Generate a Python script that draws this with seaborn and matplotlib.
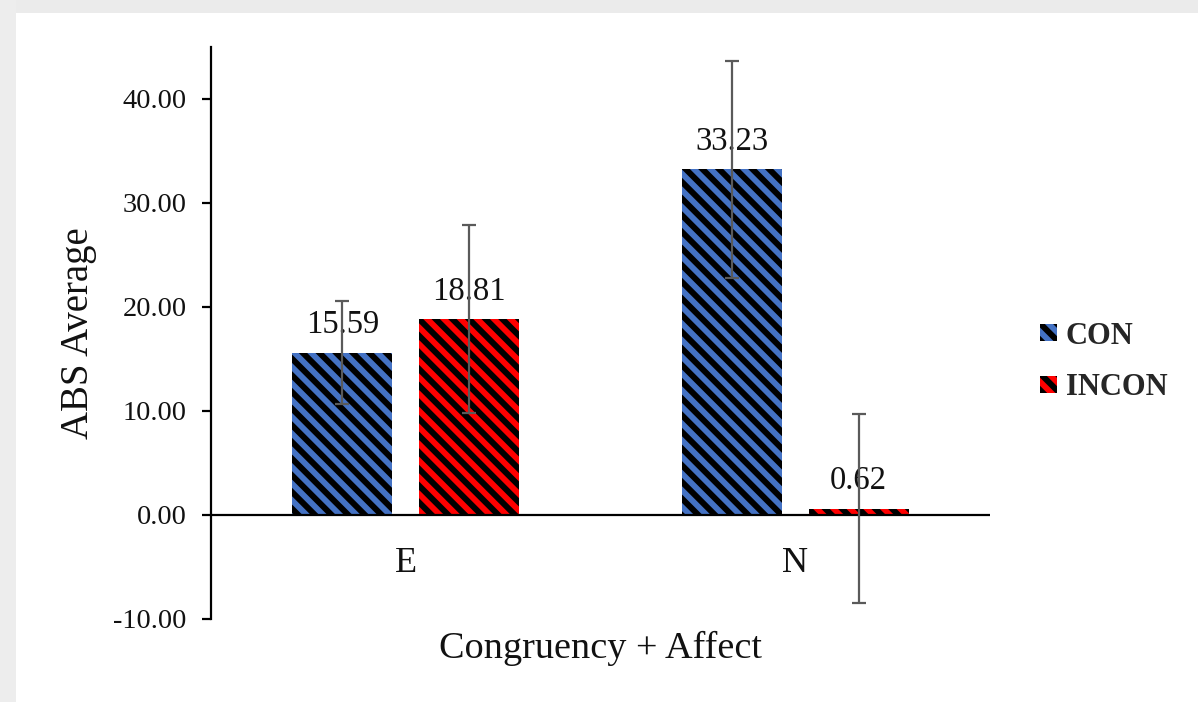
import matplotlib
matplotlib.use("Agg")
import matplotlib.pyplot as plt
from matplotlib.patches import Patch, Rectangle
from matplotlib.ticker import FuncFormatter
import seaborn as sns
import pandas as pd

# ---- data -------------------------------------------------------------
affect = ["E", "N"]
congruency = ["CON", "INCON"]
con_means = [15.59, 33.23]
incon_means = [18.81, 0.62]
con_err = [4.95, 10.45]
incon_err = [9.05, 9.1]
y_ticks = [-10, 0, 10, 20, 30, 40]

colors = {"CON": "#4472C4", "INCON": "#FF0000"}

df = pd.DataFrame({
    "affect": affect * 2,
    "congruency": ["CON"] * 2 + ["INCON"] * 2,
    "value": con_means + incon_means,
})
errors = {"CON": con_err, "INCON": incon_err}

# ---- style ------------------------------------------------------------
sns.set_style("white")
plt.rcParams["font.family"] = ["Liberation Serif", "DejaVu Serif"]
plt.rcParams["hatch.linewidth"] = 4.3
plt.rcParams["hatch.color"] = "black"
plt.rcParams["axes.unicode_minus"] = False
text_color = "#111111"
hatch = "\\\\"

fig = plt.figure(figsize=(11.98, 7.02), dpi=100, facecolor="white")

# light gray frame strip along the top and left edges
fig.add_artist(Rectangle((0, 1 - 13 / 702), 1, 13 / 702, transform=fig.transFigure,
                         facecolor="#ebebeb", edgecolor="none", zorder=0))
fig.add_artist(Rectangle((0, 0), 16 / 1198, 1, transform=fig.transFigure,
                         facecolor="#ededed", edgecolor="none", zorder=0))

ax = fig.add_axes([211 / 1198, 83 / 702, 779 / 1198, 572 / 702])
ax.set_facecolor("none")

sns.barplot(data=df, x="affect", y="value", hue="congruency",
            hue_order=congruency, order=affect,
            palette=[colors[c] for c in congruency], saturation=1,
            width=0.652, gap=0.21, errorbar=None, legend=False, ax=ax)

# hatch the bars, add value labels and error bars
for cont, name in zip(ax.containers, congruency):
    xs, ys = [], []
    for bar in cont:
        bar.set_hatch(hatch)
        bar.set_edgecolor("black")
        bar.set_linewidth(0)
        xs.append(bar.get_x() + bar.get_width() / 2)
        ys.append(bar.get_height())
    ax.bar_label(cont, labels=[f"{v:.2f}" for v in ys], padding=9,
                 fontsize=23.5, color=text_color, zorder=3)
    ax.errorbar(xs, ys, yerr=errors[name], fmt="none", ecolor="#5a5a5a",
                elinewidth=1.6, capsize=4.7, capthick=1.6, zorder=5)

ax.axhline(0, color="black", lw=1.6, zorder=4)

# axes
ax.set_xlim(-0.5, 1.5)
ax.set_ylim(-10, 45)
ax.set_yticks(y_ticks)
ax.yaxis.set_major_formatter(FuncFormatter(lambda v, p: f"{v:.2f}"))

for side in ["top", "right", "bottom"]:
    ax.spines[side].set_visible(False)
ax.spines["left"].set_color("black")
ax.spines["left"].set_linewidth(1.6)

ax.tick_params(axis="y", left=True, length=6.5, width=1.6, color="black",
               pad=11, labelsize=20.5, labelcolor=text_color, direction="out")
ax.tick_params(axis="x", bottom=False, length=0, pad=-52,
               labelsize=26, labelcolor=text_color)

ax.set_xlabel("Congruency + Affect", fontsize=27.5, color=text_color)
ax.set_ylabel("ABS Average", fontsize=28, color=text_color)
ax.xaxis.label.set_verticalalignment("baseline")
ax.xaxis.set_label_coords(0.5, -0.0682)
ax.yaxis.label.set_verticalalignment("baseline")
ax.yaxis.set_label_coords(-0.1575, 0.5)

# legend
handles = [Patch(facecolor=colors[c], edgecolor="black", linewidth=0, hatch=hatch,
                 label=c) for c in congruency]
fig.legend(handles=handles, loc="center left",
           bbox_to_anchor=(1040 / 1198, 1 - 362 / 702),
           frameon=False, borderpad=0, borderaxespad=0,
           handlelength=0.55, handleheight=0.5, handletextpad=0.3,
           labelspacing=0.75,
           prop={"family": "Liberation Serif", "weight": "bold", "size": 22})

fig.savefig("out.png", dpi=100, facecolor="white")
